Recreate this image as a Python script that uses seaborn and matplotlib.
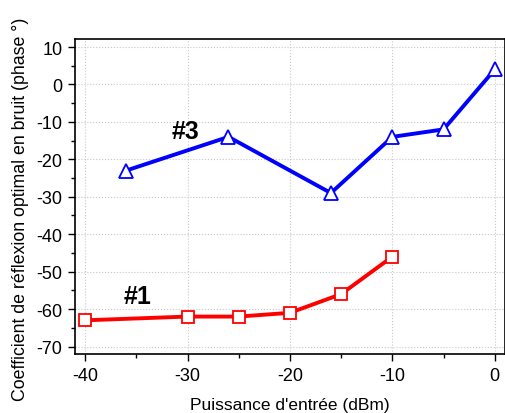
import matplotlib
matplotlib.use("Agg")
import matplotlib.pyplot as plt
import seaborn as sns
import pandas as pd
from matplotlib.ticker import MultipleLocator

x3 = [-36, -26, -16, -10, -5, 0]
y3 = [-23, -14, -29, -14, -12, 4]
x1 = [-40, -30, -25, -20, -15, -10]
y1 = [-63, -62, -62, -61, -56, -46]

sns.set_style("ticks")
plt.rcParams['font.family'] = ['Liberation Sans', 'DejaVu Sans']
plt.rcParams['axes.unicode_minus'] = False
plt.rcParams['text.color'] = 'black'
plt.rcParams['axes.labelcolor'] = 'black'

fig = plt.figure(figsize=(5.06, 4.14), dpi=100)
ax = fig.add_axes([0.148, 0.1425, 0.85, 0.7605])

df3 = pd.DataFrame({"x": x3, "y": y3})
df1 = pd.DataFrame({"x": x1, "y": y1})
sns.lineplot(data=df3, x="x", y="y", ax=ax, color="#0000ff", lw=2.8, marker="^",
             markersize=10, markerfacecolor="white", markeredgecolor="#0000ff",
             markeredgewidth=1.3, zorder=3)
sns.lineplot(data=df1, x="x", y="y", ax=ax, color="#ff0000", lw=2.8, marker="s",
             markersize=8, markerfacecolor="white", markeredgecolor="#ff0000",
             markeredgewidth=1.3, zorder=3)

ax.set_xlim(-41, 1)
ax.set_ylim(-72, 12.1)
ax.xaxis.set_major_locator(MultipleLocator(10))
ax.xaxis.set_minor_locator(MultipleLocator(5))
ax.yaxis.set_major_locator(MultipleLocator(10))
ax.yaxis.set_minor_locator(MultipleLocator(5))
ax.grid(True, which="major", ls=":", color="#c8c8c8", lw=0.8)
ax.set_axisbelow(True)
ax.tick_params(which="major", direction="out", length=5, width=1, labelsize=13,
               colors="black", pad=4)
ax.tick_params(which="minor", direction="out", length=3, width=1, colors="black")
for s in ax.spines.values():
    s.set_linewidth(1.2)
    s.set_color("black")

ax.set_xlabel("Puissance d'entrée (dBm)", fontsize=12.5, labelpad=10)
ax.set_ylabel("Coefficient de réflexion optimal en bruit (phase °)", fontsize=12.8)
ax.yaxis.set_label_coords(-0.107, 0.463)

ax.text(-30.2, -12.5, "#3", fontsize=18, fontweight="bold", ha="center", va="center", color="black")
ax.text(-34.9, -56.5, "#1", fontsize=18, fontweight="bold", ha="center", va="center", color="black")

fig.savefig("out.png", dpi=100)
